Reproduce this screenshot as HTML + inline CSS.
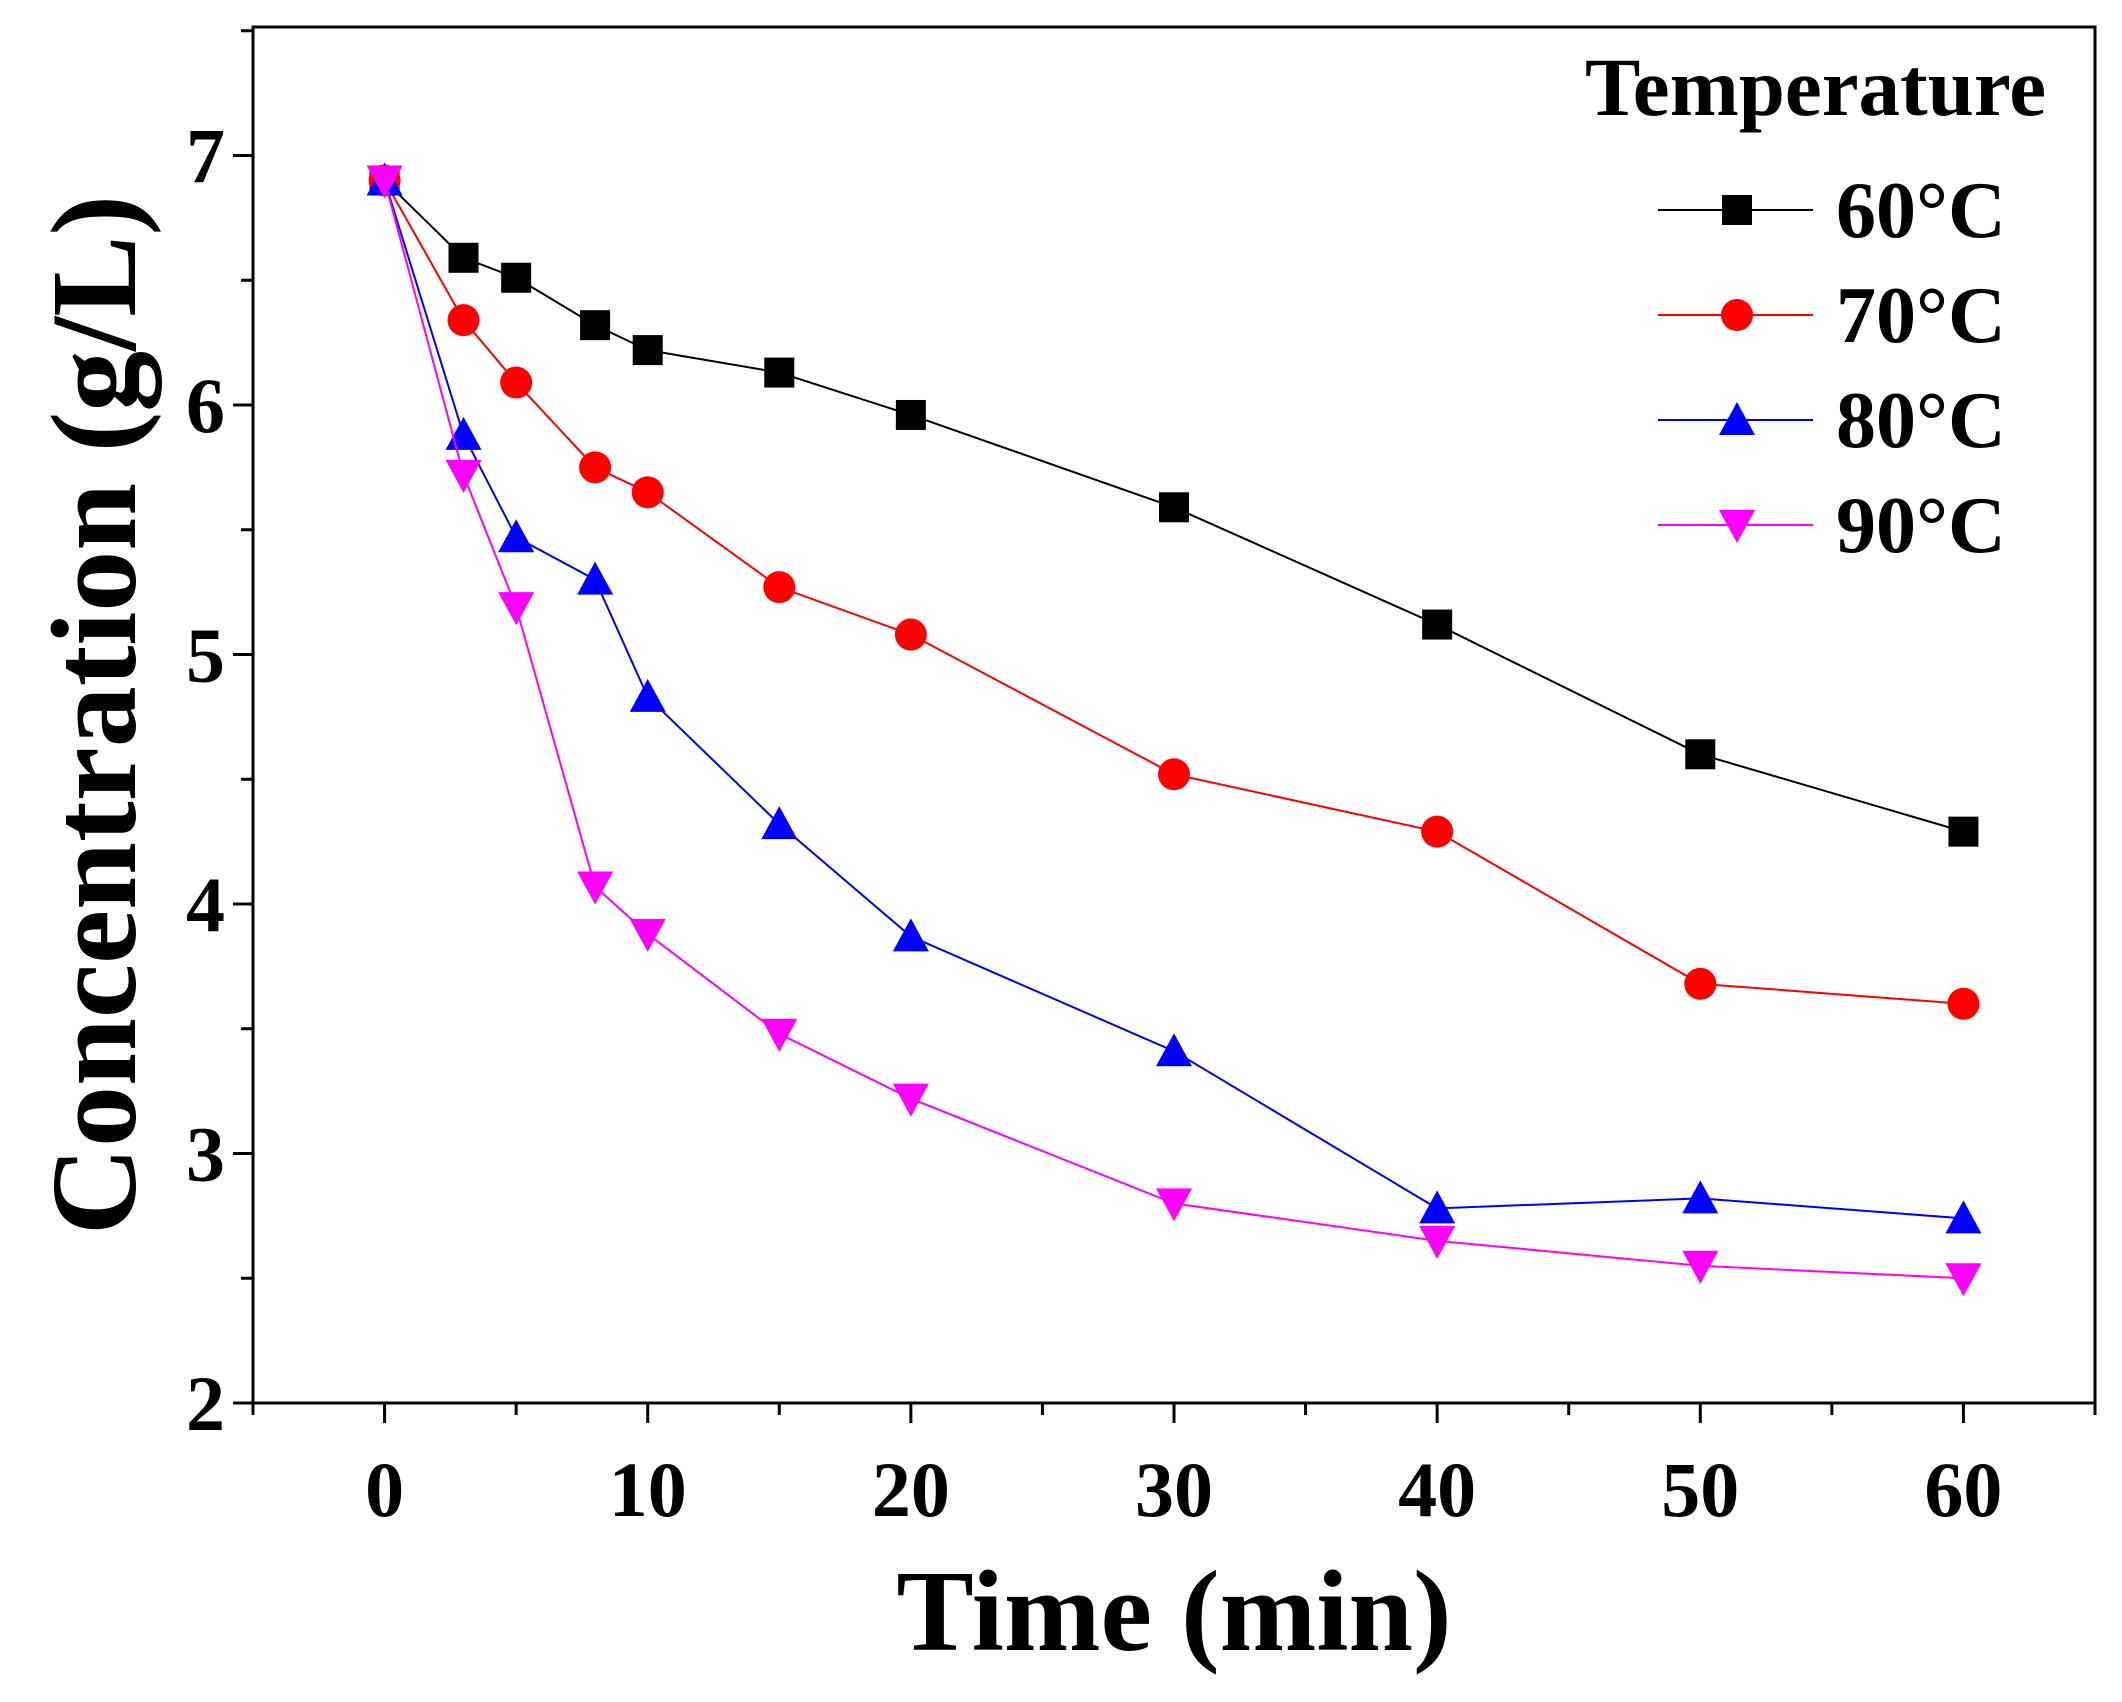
<!DOCTYPE html>
<html><head><meta charset="utf-8"><style>
html,body{margin:0;padding:0;background:#fff;}
svg text{font-family:"Liberation Serif",serif;font-weight:bold;fill:#000;}
</style></head><body>
<svg id="chart" width="2122" height="1697" xmlns="http://www.w3.org/2000/svg"></svg>
<script>
const times=[0,3,5,8,10,15,20,30,40,50,60];
const c60=[6.9,6.59,6.51,6.32,6.22,6.13,5.96,5.59,5.12,4.6,4.29];
const c70=[6.9,6.34,6.09,5.75,5.65,5.27,5.08,4.52,4.29,3.68,3.6];
const c80=[6.9,5.88,5.47,5.3,4.83,4.32,3.87,3.41,2.78,2.82,2.74];
const c90=[6.9,5.72,5.19,4.07,3.88,3.48,3.22,2.8,2.65,2.55,2.5];
const xTicks=[0,10,20,30,40,50,60];
const yTicks=[2,3,4,5,6,7];
const seriesNames=["60°C","70°C","80°C","90°C"];

const NS="http://www.w3.org/2000/svg";
const svg=document.getElementById('chart');
const L=253,R=2095,T=27,B=1403;
const xMin=-5,xMax=65,yMin=2,yMax=7.515;
const X=v=>L+(v-xMin)/(xMax-xMin)*(R-L);
const Y=v=>B-(v-yMin)/(yMax-yMin)*(B-T);
function el(tag,attrs,parent){const e=document.createElementNS(NS,tag);for(const k in attrs)e.setAttribute(k,attrs[k]);(parent||svg).appendChild(e);return e;}

const frame=el('rect',{x:L,y:T,width:R-L,height:B-T,fill:'none',stroke:'#000','stroke-width':3});



for(let v=-5;v<=65;v+=5){
  const major=v%10===0;
  const t=el('line',{x1:X(v),x2:X(v),y1:B,y2:B+(major?20:12),stroke:'#000','stroke-width':3});
  
  
}
xTicks.forEach(v=>{
  const t=el('text',{x:X(v),y:B+113,'text-anchor':'middle','font-size':78});
  t.textContent=v;
  
  
});
for(let v=2;v<=7.5;v+=0.5){
  const major=Math.abs(v-Math.round(v))<1e-6;
  const t=el('line',{x1:L,x2:L-(major?20:12),y1:Y(v),y2:Y(v),stroke:'#000','stroke-width':3});
  
  
}
yTicks.forEach(v=>{
  const t=el('text',{x:L-28,y:Y(v)+27,'text-anchor':'end','font-size':78});
  t.textContent=v;
  
  
});
const xt=el('text',{x:(L+R)/2,y:1650,'text-anchor':'middle','font-size':116});
xt.textContent='Time (min)';


const yt=el('text',{x:0,y:0,'text-anchor':'middle','font-size':122,transform:`translate(135,${(T+B)/2}) rotate(-90)`});
yt.textContent='Concentration (g/L)';



function marker(type,cx,cy,color,parent){
  const s=15;let m;
  if(type==='sq')m=el('rect',{x:cx-s,y:cy-s,width:2*s,height:2*s,fill:color},parent);
  else if(type==='ci')m=el('circle',{cx:cx,cy:cy,r:s+1,fill:color},parent);
  else if(type==='up')m=el('polygon',{points:`${cx},${cy-s-3} ${cx-s-3},${cy+s} ${cx+s+3},${cy+s}`,fill:color},parent);
  else m=el('polygon',{points:`${cx},${cy+s+3} ${cx-s-3},${cy-s} ${cx+s+3},${cy-s}`,fill:color},parent);
  return m;
}
const allSeries=[c60,c70,c80,c90];
const colors=['#000','#ff0000','#0000ff','#ff00ff'];
const types=['sq','ci','up','dn'];
allSeries.forEach((data,i)=>{
  const g=el('g',{});
  
  
  const p=el('polyline',{points:times.map((t,j)=>X(t)+','+Y(data[j])).join(' '),fill:'none',stroke:colors[i],'stroke-width':2},g);
  
  
  times.forEach((t,j)=>{
    const m=marker(types[i],X(t),Y(data[j]),colors[i],g);
    
    
  });
});
const lg=el('g',{});


const lt=el('text',{x:1585,y:115,'font-size':83},lg);
lt.textContent='Temperature';


seriesNames.forEach((n,i)=>{
  const y=210+i*105;
  const e=el('g',{},lg);
  
  
  el('line',{x1:1658,x2:1813,y1:y,y2:y,stroke:colors[i],'stroke-width':2},e);
  marker(types[i],1737,y,colors[i],e);
  const t=el('text',{x:1836,y:y+27,'font-size':80},e);
  t.textContent=n;
});
</script>
</body></html>
